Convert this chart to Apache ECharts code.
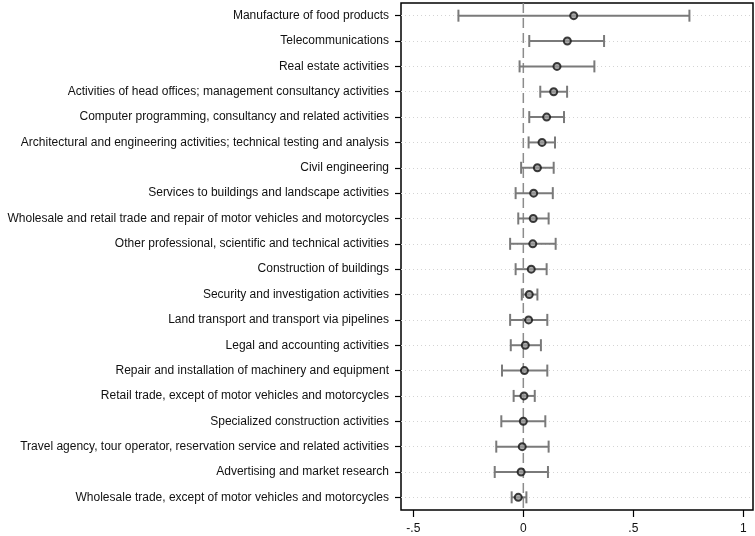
<!DOCTYPE html>
<html>
<head>
<meta charset="utf-8">
<script src="https://cdn.jsdelivr.net/npm/echarts@6/dist/echarts.min.js"></script>
<style>html,body{margin:0;padding:0;background:#fff;}#c{width:755px;height:536px;}</style>
</head>
<body>
<div id="c"></div>
<script>
const categories = [
  "Manufacture of food products",
  "Telecommunications",
  "Real estate activities",
  "Activities of head offices; management consultancy activities",
  "Computer programming, consultancy and related activities",
  "Architectural and engineering activities; technical testing and analysis",
  "Civil engineering",
  "Services to buildings and landscape activities",
  "Wholesale and retail trade and repair of motor vehicles and motorcycles",
  "Other professional, scientific and technical activities",
  "Construction of buildings",
  "Security and investigation activities",
  "Land transport and transport via pipelines",
  "Legal and accounting activities",
  "Repair and installation of machinery and equipment",
  "Retail trade, except of motor vehicles and motorcycles",
  "Specialized construction activities",
  "Travel agency, tour operator, reservation service and related activities",
  "Advertising and market research",
  "Wholesale trade, except of motor vehicles and motorcycles"
];
const estimates = [0.229, 0.200, 0.153, 0.138, 0.106, 0.085, 0.064, 0.047, 0.045, 0.043, 0.036, 0.027, 0.024, 0.009, 0.005, 0.003, 0.000, -0.005, -0.010, -0.023];
const lowerCI  = [-0.295, 0.027, -0.017, 0.077, 0.027, 0.024, -0.010, -0.035, -0.023, -0.060, -0.035, -0.007, -0.060, -0.057, -0.097, -0.044, -0.100, -0.123, -0.130, -0.053];
const upperCI  = [0.755, 0.367, 0.323, 0.199, 0.185, 0.144, 0.138, 0.134, 0.115, 0.147, 0.106, 0.064, 0.109, 0.080, 0.109, 0.052, 0.100, 0.115, 0.112, 0.014];
const xTicks = [-0.5, 0, 0.5, 1];
const xTickLabels = ["-.5", "0", ".5", "1"];
const referenceValue = 0;

const chart = echarts.init(document.getElementById('c'), null, {renderer: 'canvas'});
const font = 'Liberation Sans, Arial, sans-serif';
const ciData = categories.map((c, i) => [i, lowerCI[i], upperCI[i]]);
const ptData = categories.map((c, i) => [estimates[i], i]);

chart.setOption({
  animation: false,
  backgroundColor: '#fff',
  grid: {left: 401, right: 2, top: 3, bottom: 26, show: true, borderColor: '#000', borderWidth: 1.5, backgroundColor: 'transparent'},
  xAxis: {
    type: 'value', min: -0.556, max: 1.044,
    axisLine: {show: false, onZero: false},
    axisTick: {show: true, length: 7, customValues: xTicks, lineStyle: {color: '#000', width: 1.2}},
    axisLabel: {customValues: xTicks, margin: 13, color: '#111', fontFamily: font, fontSize: 12,
      formatter: v => { const k = xTicks.findIndex(t => Math.abs(t - v) < 1e-9); return k >= 0 ? xTickLabels[k] : ''; }},
    splitLine: {show: false}
  },
  yAxis: {
    type: 'category', data: categories, inverse: true,
    axisLine: {show: false, onZero: false},
    axisTick: {show: true, alignWithLabel: true, length: 6, lineStyle: {color: '#000', width: 1.2}},
    axisLabel: {margin: 12, color: '#111', fontFamily: font, fontSize: 12},
    splitLine: {show: true, alignWithLabel: true, lineStyle: {color: '#d4d4d4', type: [1, 3], width: 1}}
  },
  series: [
    {
      type: 'custom',
      data: [[referenceValue]],
      encode: {x: 0},
      renderItem: function (params, api) {
        const cs = params.coordSys;
        const x = api.coord([api.value(0), 0])[0];
        return {type: 'line', shape: {x1: x, y1: cs.y, x2: x, y2: cs.y + cs.height},
          style: {stroke: '#8c8c8c', lineWidth: 1.5, lineDash: [10, 5]}};
      },
      silent: true,
      z: 2
    },
    {
      type: 'custom',
      data: ciData,
      encode: {x: [1, 2], y: 0},
      renderItem: function (params, api) {
        const y = api.value(0);
        const p1 = api.coord([api.value(1), y]);
        const p2 = api.coord([api.value(2), y]);
        const h = 6;
        const st = {stroke: '#7a7a7a', lineWidth: 2};
        return {type: 'group', children: [
          {type: 'line', shape: {x1: p1[0], y1: p1[1], x2: p2[0], y2: p2[1]}, style: st},
          {type: 'line', shape: {x1: p1[0], y1: p1[1] - h, x2: p1[0], y2: p1[1] + h}, style: st},
          {type: 'line', shape: {x1: p2[0], y1: p2[1] - h, x2: p2[0], y2: p2[1] + h}, style: st}
        ]};
      },
      silent: true,
      z: 3
    },
    {
      type: 'scatter',
      data: ptData,
      symbol: 'circle',
      symbolSize: 7,
      itemStyle: {color: '#999999', borderColor: '#111', borderWidth: 2},
      z: 5
    }
  ]
});
</script>
</body>
</html>
